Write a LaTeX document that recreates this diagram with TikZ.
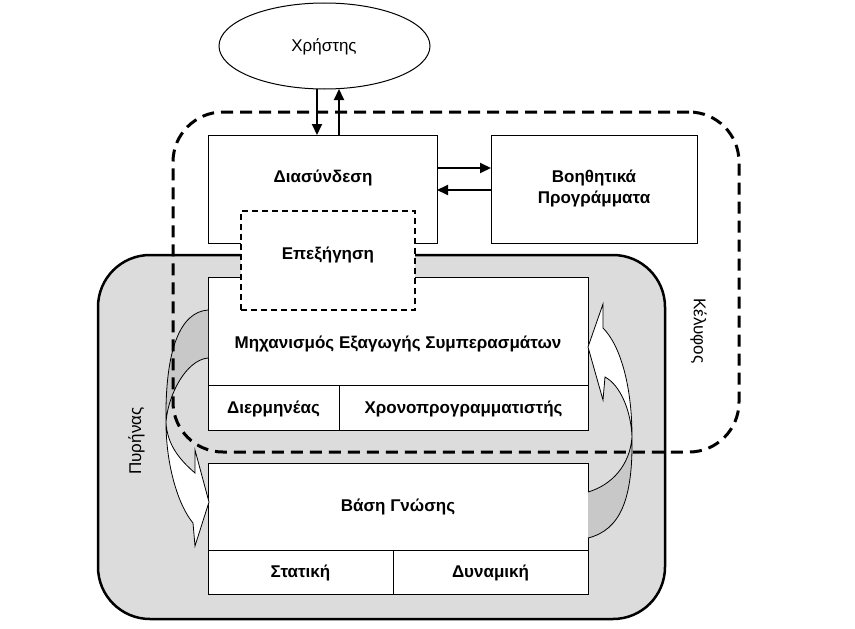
\documentclass[tikz,border=0pt]{standalone}
\usepackage{fontspec}
\setmainfont{Liberation Sans}
\usetikzlibrary{arrows.meta,shapes.geometric}
\definecolor{coregray}{HTML}{DCDCDC}
\definecolor{backgray}{HTML}{C8C8C8}
\begin{document}
\begin{tikzpicture}[x=1pt,y=-1pt,
  txt/.style={inner sep=0pt, outer sep=0pt, text height=12.2pt, text depth=0pt, font=\fontsize{17}{21}\selectfont},
  btxt/.style={txt, font=\fontsize{17}{21}\selectfont\bfseries},
  box/.style={draw, line width=1pt, fill=white, inner sep=0pt, outer sep=0pt},
  arr/.style={line width=2pt, -{Triangle[length=11pt,width=10pt]}},
  flap/.style={draw, line width=0.8pt}
]
\useasboundingbox (0,0) rectangle (855,629);

% core
\node[draw, line width=2.5pt, fill=coregray, rounded corners=52pt, inner sep=0pt,
      minimum width=567pt, minimum height=364pt] (core) at (381.5,437) {};
\node[txt, rotate=90] (coretxt) at (135,441) {Πυρήνας};

% boxes
\node[box, minimum width=229pt, minimum height=108pt] (iface) at (322.5,189) {};
\node[btxt] (ifacetxt) at (323,176) {Διασύνδεση};
\node[box, minimum width=206pt, minimum height=108pt] (aux) at (594,189) {};
\node[btxt, align=center, text height=12.2pt] (auxtxt1) at (594,176) {Βοηθητικά};
\node[btxt] (auxtxt2) at (594,197) {Προγράμματα};

\node[box, minimum width=380pt, minimum height=108pt] (mech) at (398,331) {};
\node[btxt] (mechtxt) at (398,342) {Μηχανισμός Εξαγωγής Συμπερασμάτων};
\node[box, minimum width=131pt, minimum height=45pt] (interp) at (273.5,407.5) {};
\node[btxt] (interptxt) at (273.5,407) {Διερμηνέας};
\node[box, minimum width=249pt, minimum height=45pt] (sched) at (463.5,407.5) {};
\node[btxt] (schedtxt) at (463.5,407) {Χρονοπρογραμματιστής};

\node[box, minimum width=380pt, minimum height=87pt] (kb) at (398,506.5) {};
\node[btxt] (kbtxt) at (398,505) {Βάση Γνώσης};
\node[box, minimum width=185pt, minimum height=44pt] (stat) at (300.5,572) {};
\node[btxt] (stattxt) at (300.5,571) {Στατική};
\node[box, minimum width=195pt, minimum height=44pt] (dyn) at (490.5,572) {};
\node[btxt] (dyntxt) at (490.5,571) {Δυναμική};

% explanation (dashed)
\node[box, line width=1.5pt, dash pattern=on 6pt off 4pt, minimum width=174pt, minimum height=99pt] (expl) at (328,260.5) {};
\node[btxt] (expltxt) at (328,253) {Επεξήγηση};

% left curved arrow
\fill[backgray, draw=black, line width=0.8pt]
  (208,310) .. controls (180,312) and (165,350) .. (166,422)
  .. controls (168,395) and (186,360) .. (208,358);
\fill[white, draw=black, line width=0.8pt]
  (166,422) .. controls (166,465) and (178,505) .. (193,523)
  -- (195,546) -- (209,502) -- (195,450) -- (195,473)
  .. controls (180,460) and (167,445) .. (166,422) -- cycle;

% right curved arrow
\fill[backgray, draw=black, line width=0.8pt]
  (588,538) .. controls (620,530) and (633,500) .. (632,437)
  .. controls (630,465) and (612,485) .. (588,492);
\fill[white, draw=black, line width=0.8pt]
  (632,437) .. controls (632,385) and (620,345) .. (603,328)
  -- (603,304) -- (588,347) -- (603,400) -- (605,377)
  .. controls (620,385) and (631,410) .. (632,437) -- cycle;

% shell
\node[draw, line width=3pt, dash pattern=on 12pt off 7pt, rounded corners=50pt, inner sep=0pt,
      minimum width=566pt, minimum height=340pt] (shell) at (456,282) {};
\node[txt, rotate=-90] (shelltxt) at (700,331) {Κέλυφος};

% user
\node[draw, ellipse, line width=1pt, fill=white, inner sep=0pt, outer sep=0pt,
      minimum width=211pt, minimum height=86pt] (user) at (324.5,46) {};
\node[txt] (usertxt) at (324,45) {Χρήστης};

% straight arrows
\coordinate (dn) at (317,0);
\coordinate (upc) at (339,0);
\coordinate (r1) at (0,168);
\coordinate (r2) at (0,190);
\draw[arr] (user.south -| dn) -- (iface.north -| dn);
\draw[arr] (iface.north -| upc) -- (user.south -| upc);
\draw[arr] (iface.east |- r1) -- (aux.west |- r1);
\draw[arr] (aux.west |- r2) -- (iface.east |- r2);
\end{tikzpicture}
\end{document}
